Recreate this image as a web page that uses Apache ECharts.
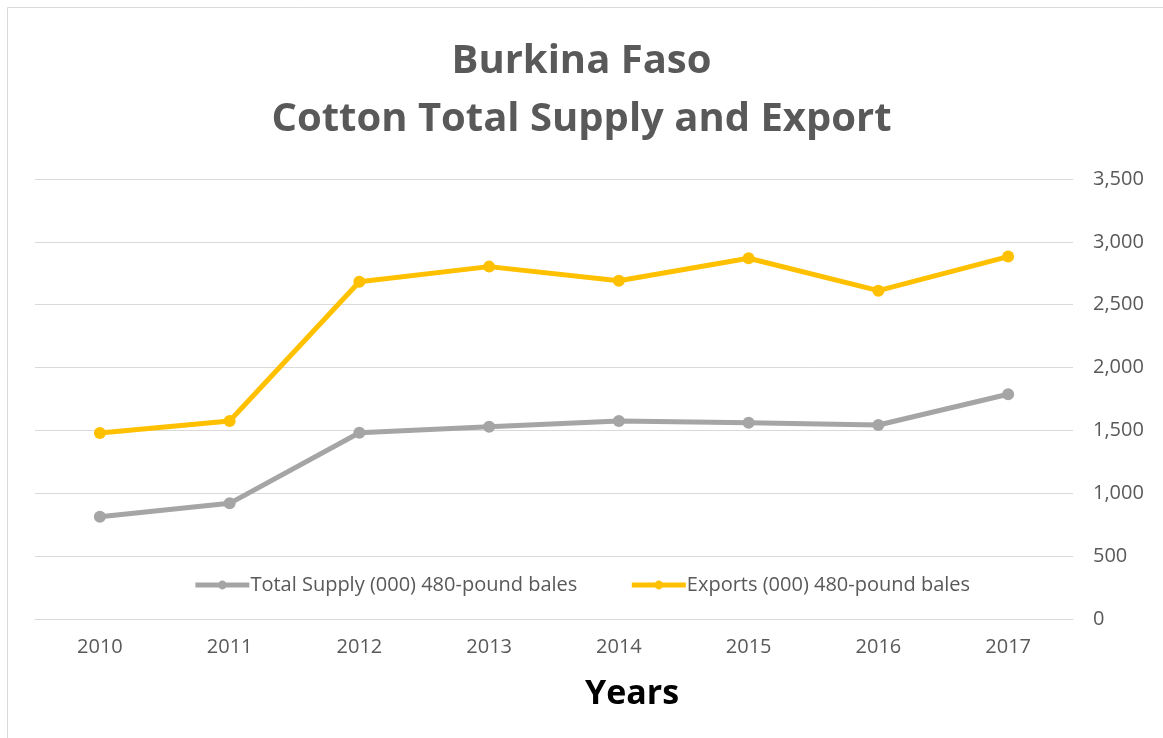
<!DOCTYPE html>
<html>
<head>
<meta charset="utf-8">
<script src="https://cdn.jsdelivr.net/npm/echarts@6/dist/echarts.min.js"></script>
<style>
  html, body { margin: 0; padding: 0; background: #fff; }
  #chart { width: 1163px; height: 738px; }
</style>
</head>
<body>
<div id="chart"></div>
<script>
// Burkina Faso cotton balance, thousands of 480-pound bales
const years = ['2010', '2011', '2012', '2013', '2014', '2015', '2016', '2017'];
const totalSupply = [814, 920, 1482, 1530, 1575, 1562, 1543, 1788];
const exportsBales = [1480, 1575, 2683, 2803, 2691, 2870, 2612, 2883];
const seriesNames = ['Total Supply (000) 480-pound bales', 'Exports (000) 480-pound bales'];

const FONT = '"Open Sans", "Noto Sans", sans-serif';
const chart = echarts.init(document.getElementById('chart'));

chart.setOption({
  animation: false,
  backgroundColor: '#ffffff',
  textStyle: { fontFamily: FONT },
  title: {
    text: 'Burkina Faso\nCotton Total Supply and Export',
    left: 'center',
    top: 28,
    textStyle: {
      fontFamily: FONT,
      fontSize: 40,
      fontWeight: 'bold',
      color: '#595959',
      lineHeight: 58
    }
  },
  legend: {
    top: 570,
    left: 'center',
    itemGap: 52,
    itemWidth: 54,
    itemHeight: 11,
    lineStyle: { width: 5 },
    textStyle: { fontFamily: FONT, fontSize: 20, color: '#595959', padding: [0, 0, 0, -4] },
    data: seriesNames
  },
  grid: { left: 35, right: 90, top: 179, bottom: 119 },
  xAxis: {
    type: 'category',
    data: years,
    boundaryGap: true,
    axisLine: { show: true, lineStyle: { color: '#d9d9d9', width: 1 } },
    axisTick: { show: false },
    axisLabel: { color: '#595959', fontFamily: FONT, fontSize: 20, margin: 18 },
    name: 'Years',
    nameLocation: 'middle',
    nameGap: 58,
    nameTextStyle: {
      fontFamily: FONT,
      fontSize: 34,
      fontWeight: 'bold',
      color: '#000000',
      padding: [0, 0, 0, 156]
    }
  },
  yAxis: {
    type: 'value',
    position: 'right',
    min: 0,
    max: 3500,
    interval: 500,
    axisLine: { show: false },
    axisTick: { show: false },
    splitLine: { lineStyle: { color: '#d9d9d9', width: 1 } },
    axisLabel: {
      color: '#595959',
      fontFamily: FONT,
      fontSize: 20,
      margin: 20,
      formatter: v => v.toLocaleString('en-US')
    }
  },
  series: [
    {
      name: seriesNames[0],
      type: 'line',
      data: totalSupply,
      symbol: 'circle',
      symbolSize: 12,
      lineStyle: { width: 5, color: '#a5a5a5' },
      itemStyle: { color: '#a5a5a5' }
    },
    {
      name: seriesNames[1],
      type: 'line',
      data: exportsBales,
      symbol: 'circle',
      symbolSize: 12,
      lineStyle: { width: 5, color: '#ffc000' },
      itemStyle: { color: '#ffc000' }
    }
  ],
  graphic: [
    {
      type: 'rect',
      shape: { x: 7.5, y: 7.5, width: 1170, height: 760 },
      style: { fill: 'none', stroke: '#d9d9d9', lineWidth: 1 },
      silent: true
    }
  ]
});
</script>
</body>
</html>
